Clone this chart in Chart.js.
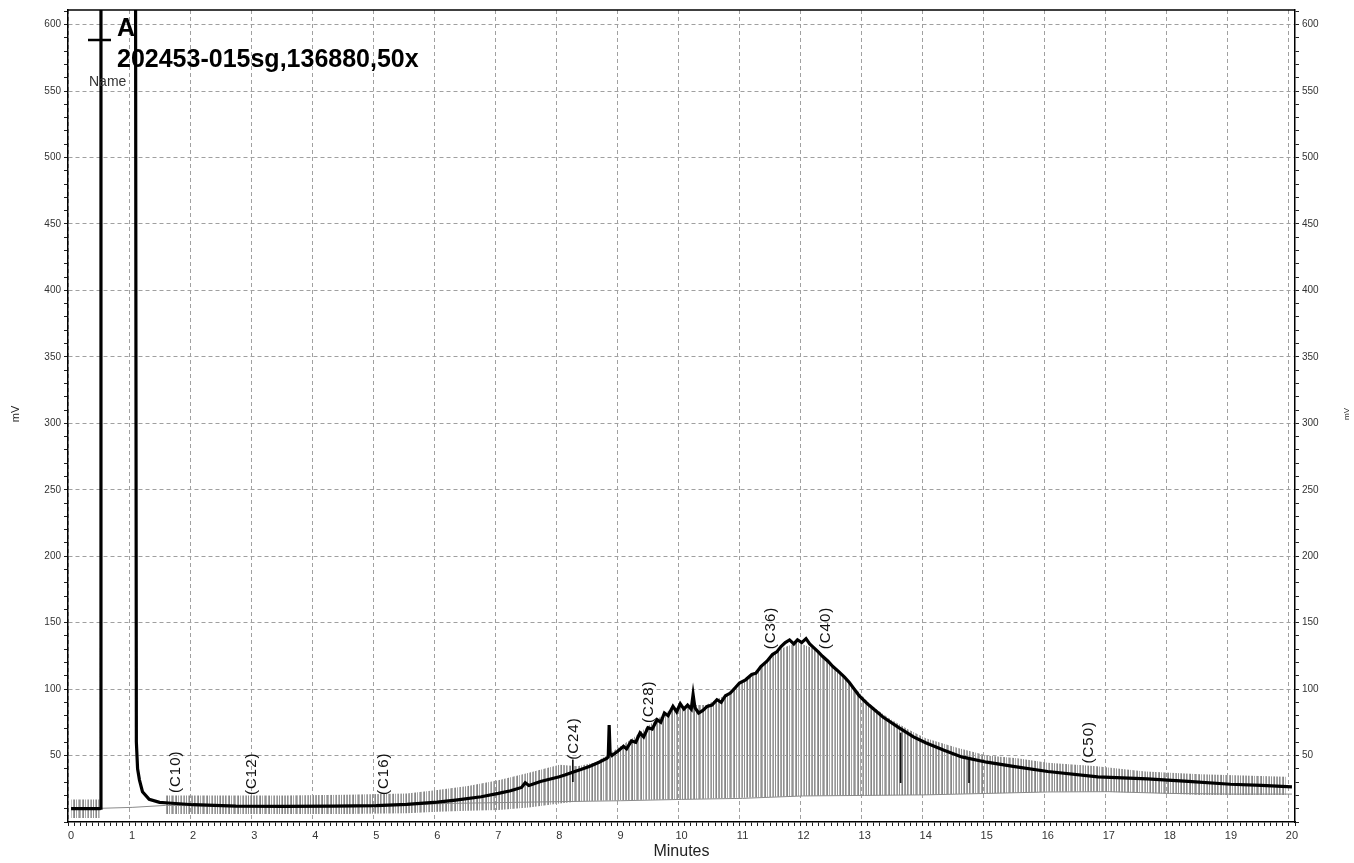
<!DOCTYPE html>
<html><head><meta charset="utf-8">
<script src="https://cdn.jsdelivr.net/npm/chart.js@4.4.1/dist/chart.umd.min.js"></script>
<style>html,body{margin:0;padding:0;background:#fff;}#wrap{width:1354px;height:863px;}</style>
</head><body><div id="wrap"><canvas id="c" width="1354" height="863"></canvas></div>
<script>
// ---- data ----
const sigT = [0,0.47,0.48,0.49,1.055,1.07,1.09,1.12,1.17,1.28,1.45,1.6,2.0,2.7,3.5,4.3,5.0,5.5,6.0,6.3,6.72,7.0,7.2,7.38,7.44,7.5,7.69,8.0,8.1,8.24,8.35,8.5,8.65,8.78,8.80,8.815,8.83,8.86,8.95,9.05,9.1,9.18,9.25,9.32,9.38,9.45,9.52,9.6,9.66,9.72,9.78,9.86,9.92,9.98,10.04,10.1,10.16,10.19,10.22,10.28,10.35,10.42,10.5,10.58,10.65,10.72,10.8,10.88,10.95,11.05,11.15,11.22,11.3,11.4,11.49,11.56,11.63,11.7,11.77,11.84,11.9,11.97,12.04,12.1,12.17,12.24,12.31,12.4,12.48,12.58,12.67,12.75,12.83,12.91,13.0,13.07,13.3,13.56,13.8,14.0,14.3,14.59,15.0,15.46,16.0,16.82,17.63,18.3,18.99,19.5,20.0];
const sigV = [10,10,10.5,700,700,60,40,31.7,22.8,17,14.8,14.3,13,12,11.8,12,12.3,13.3,15,16.5,19,21.5,23.5,26,29.5,27.5,30.5,34,35.5,37.8,39.5,42,45,48,49,73,52,50,53,57,55,61,60,67,64,71,70,77,75,82,80,87,83,89,85,88,85,96,86,82,84,87,88,92,90,95,97,101,104.6,107,111,112,117,121,126,128,132,135,137,134,137,135,138,134,131,128,124.7,121,117,113,109,105,100,95,91,88,79,71,64,59.6,54,49,45,41.7,38,34,32.4,30.5,28.4,27.5,26.5];

const baseT = [0,0.48,1.0,1.55,3.0,5.0,6.2,7.0,8.0,9.0,10.0,11.0,12.0,13.0,14.0,15.0,16.0,17.0,18.0,19.0,20.0];
const baseV = [10,10.3,11,12.5,11.8,12.3,14,14.6,15.3,16,17,17.8,19.6,20,20.4,21.5,22.6,22.8,21.5,21,21];

const hatchT   = [0,0.47,1.0,1.55,2.5,3.5,4.5,5.5,6.0,6.5,7.0,7.5,8.0,8.3,8.6,8.9,9.2,9.5,9.8,10.1,10.4,10.7,11.0,11.3,11.6,11.9,12.2,12.5,12.8,13.1,13.4,13.7,14.0,14.5,15.0,15.5,16.0,16.8,17.6,18.5,19.9];
const hatchTop = [17,17,null,20,20,20,20.5,21.5,24,27,31.5,37,43,42,45,54,63,74,84,88,88,95,106,117,130,135,130,116,103,88,78,70,63,56,50,48,44.5,42,38,36,34];
const hatchBot = [3,3,null,6,6,6,6,6.5,7.8,8.5,9,11,14,15.5,16,16.2,16.5,16.8,17,17.2,17.5,18,18.3,18.7,19,19.5,19.7,20,20,20,20.2,20.3,20.4,21,21.5,22,22.8,22.8,22,20.4,20.4];

const dropT  = [8.22,13.59,14.71];
const dropLo = [30.4,29.6,29.6];
const dropHi = [46.8,67,46.8];

const peakNames = ['(C10)','(C12)','(C16)','(C24)','(C28)','(C36)','(C40)','(C50)'];
const peakTimes = [1.71,2.97,5.13,8.23,9.47,11.47,12.36,16.68];
const peakBase  = [21.8,20.3,20.3,46.8,74.5,130,130,44];

const traceId = 'A';
const traceName = '202453-015sg,136880,50x';
const legendSub = 'Name';
const yTitle = 'mV';
const xTitle = 'Minutes';
const xMin = 0, xMax = 20, yMin = 0, yMax = 611;

// ---- rendering ----
const FONT = "Arial, 'Liberation Sans', sans-serif";
const canvas = document.getElementById('c');
const mainCtx = canvas.getContext('2d');

function makeHatch() {
  const t = document.createElement('canvas'); t.width = 31; t.height = 4;
  const g = t.getContext('2d');
  const cols = [[0,'#8f8f8f'],[2,'#b5b5b5'],[3,'#858585'],[5,'#a8a8a8'],[6,'#9a9a9a'],[8,'#8f8f8f'],[9,'#bcbcbc'],[11,'#a0a0a0'],[12,'#858585'],[14,'#a3a3a3'],[16,'#b8b8b8'],[17,'#939393'],[18,'#b3b3b3'],[20,'#a5a5a5'],[21,'#878787'],[23,'#a8a8a8'],[25,'#b9b9b9'],[26,'#939393'],[28,'#b8b8b8'],[29,'#999999']];
  cols.forEach(([x,c]) => { g.fillStyle = c; g.fillRect(x,0,1,4); });
  return mainCtx.createPattern(t, 'repeat');
}

const xy = (xs, ys) => xs.map((x,i) => ({x: x, y: ys[i]}));
const isInt = v => Math.abs(v - Math.round(v)) < 1e-6;

const deco = {
  id: 'deco',
  afterDatasetsDraw(chart) {
    const {ctx, scales} = chart;
    ctx.save();
    ctx.font = '15px ' + FONT;
    ctx.fillStyle = '#111';
    try { ctx.letterSpacing = '1px'; } catch(e) {}
    ctx.textAlign = 'left'; ctx.textBaseline = 'middle';
    peakNames.forEach((n,i) => {
      const px = scales.x.getPixelForValue(peakTimes[i]);
      const py = scales.y.getPixelForValue(peakBase[i]);
      ctx.save(); ctx.translate(px, py); ctx.rotate(-Math.PI/2); ctx.fillText(n, 0, 0); ctx.restore();
    });
    ctx.restore();
  },
  afterDraw(chart) {
    const {ctx, chartArea: a} = chart;
    ctx.save();
    ctx.strokeStyle = '#000'; ctx.lineWidth = 1.5;
    ctx.beginPath(); ctx.moveTo(a.left, a.top); ctx.lineTo(a.right, a.top); ctx.stroke();
    ctx.lineWidth = 2.5;
    ctx.beginPath(); ctx.moveTo(88, 40); ctx.lineTo(111, 40); ctx.stroke();
    ctx.fillStyle = '#000'; ctx.textAlign = 'left'; ctx.textBaseline = 'alphabetic';
    ctx.font = 'bold 25px ' + FONT;
    ctx.fillText(traceId, 117, 36);
    ctx.fillText(traceName, 117, 67);
    ctx.font = '14px ' + FONT; ctx.fillStyle = '#333';
    ctx.fillText(legendSub, 89, 86);
    ctx.fillStyle = '#222'; ctx.textAlign = 'center'; ctx.textBaseline = 'middle';
    ctx.font = '16px ' + FONT;
    ctx.fillText(xTitle, (a.left + a.right)/2, 852);
    ctx.font = '11px ' + FONT;
    ctx.save(); ctx.translate(16, 414); ctx.rotate(-Math.PI/2); ctx.fillText(yTitle, 0, 0); ctx.restore();
    ctx.font = '8px ' + FONT;
    ctx.save(); ctx.translate(1347, 414); ctx.rotate(-Math.PI/2); ctx.fillText(yTitle, 0, 0); ctx.restore();
    ctx.restore();
  }
};

function yScale(pos, w) {
  return {
    type: 'linear', position: pos, min: yMin, max: yMax,
    ticks: { stepSize: 10, includeBounds: false, autoSkip: false, padding: 3,
      color: '#333', font: { size: 10, family: FONT },
      callback: v => (v > 0 && Math.round(v) % 50 === 0) ? String(Math.round(v)) : '' },
    grid: { drawOnChartArea: pos === 'left',
      color: c => (c.tick && c.tick.value > 0 && Math.round(c.tick.value) % 50 === 0) ? '#a0a0a0' : 'rgba(0,0,0,0)',
      tickColor: '#222', tickLength: 4, lineWidth: 1 },
    border: { color: '#000', width: 1.5, dash: [4,3] },
    afterFit: s => { s.width = w; s.paddingTop = 0; s.paddingBottom = 0; }
  };
}

new Chart(canvas, {
  type: 'line',
  data: {
    datasets: [
      { label: 'signal', data: xy(sigT, sigV), borderColor: '#000', borderWidth: 3.2, pointRadius: 0, tension: 0, fill: false, yAxisID: 'y' },
      { type: 'bar', label: 'drops', data: dropT.map((t,i) => ({x: t, y: [dropLo[i], dropHi[i]]})), backgroundColor: '#111', barThickness: 1, grouped: false, yAxisID: 'y' },
      { label: 'baseline', data: xy(baseT, baseV), borderColor: '#8a8a8a', borderWidth: 1, pointRadius: 0, tension: 0, fill: false, yAxisID: 'y' },
      { label: 'hatchTop', data: xy(hatchT, hatchTop), borderColor: 'rgba(0,0,0,0)', borderWidth: 0, pointRadius: 0, tension: 0, spanGaps: false, fill: '+1', backgroundColor: makeHatch(), yAxisID: 'y' },
      { label: 'hatchBot', data: xy(hatchT, hatchBot), borderColor: 'rgba(0,0,0,0)', borderWidth: 0, pointRadius: 0, tension: 0, spanGaps: false, fill: false, yAxisID: 'y' }
    ]
  },
  options: {
    responsive: false, animation: false, events: [],
    layout: { padding: { top: 10, left: 0, right: 0, bottom: 0 } },
    plugins: { legend: { display: false }, tooltip: { enabled: false } },
    scales: {
      x: { type: 'linear', position: 'bottom', min: xMin, max: xMax,
        ticks: { stepSize: 0.1, autoSkip: false, maxRotation: 0, padding: 3, color: '#333',
          font: { size: 11, family: FONT }, callback: v => isInt(v) ? String(Math.round(v)) : '' },
        grid: { color: c => (c.tick && isInt(c.tick.value)) ? '#a0a0a0' : 'rgba(0,0,0,0)',
          tickColor: '#222', tickLength: 4, lineWidth: 1 },
        border: { color: '#000', width: 1.5, dash: [4,3] },
        afterFit: s => { s.height = 41; s.paddingLeft = 0; s.paddingRight = 0; } },
      y: yScale('left', 68),
      y2: yScale('right', 59)
    }
  },
  plugins: [deco]
});
</script></body></html>
